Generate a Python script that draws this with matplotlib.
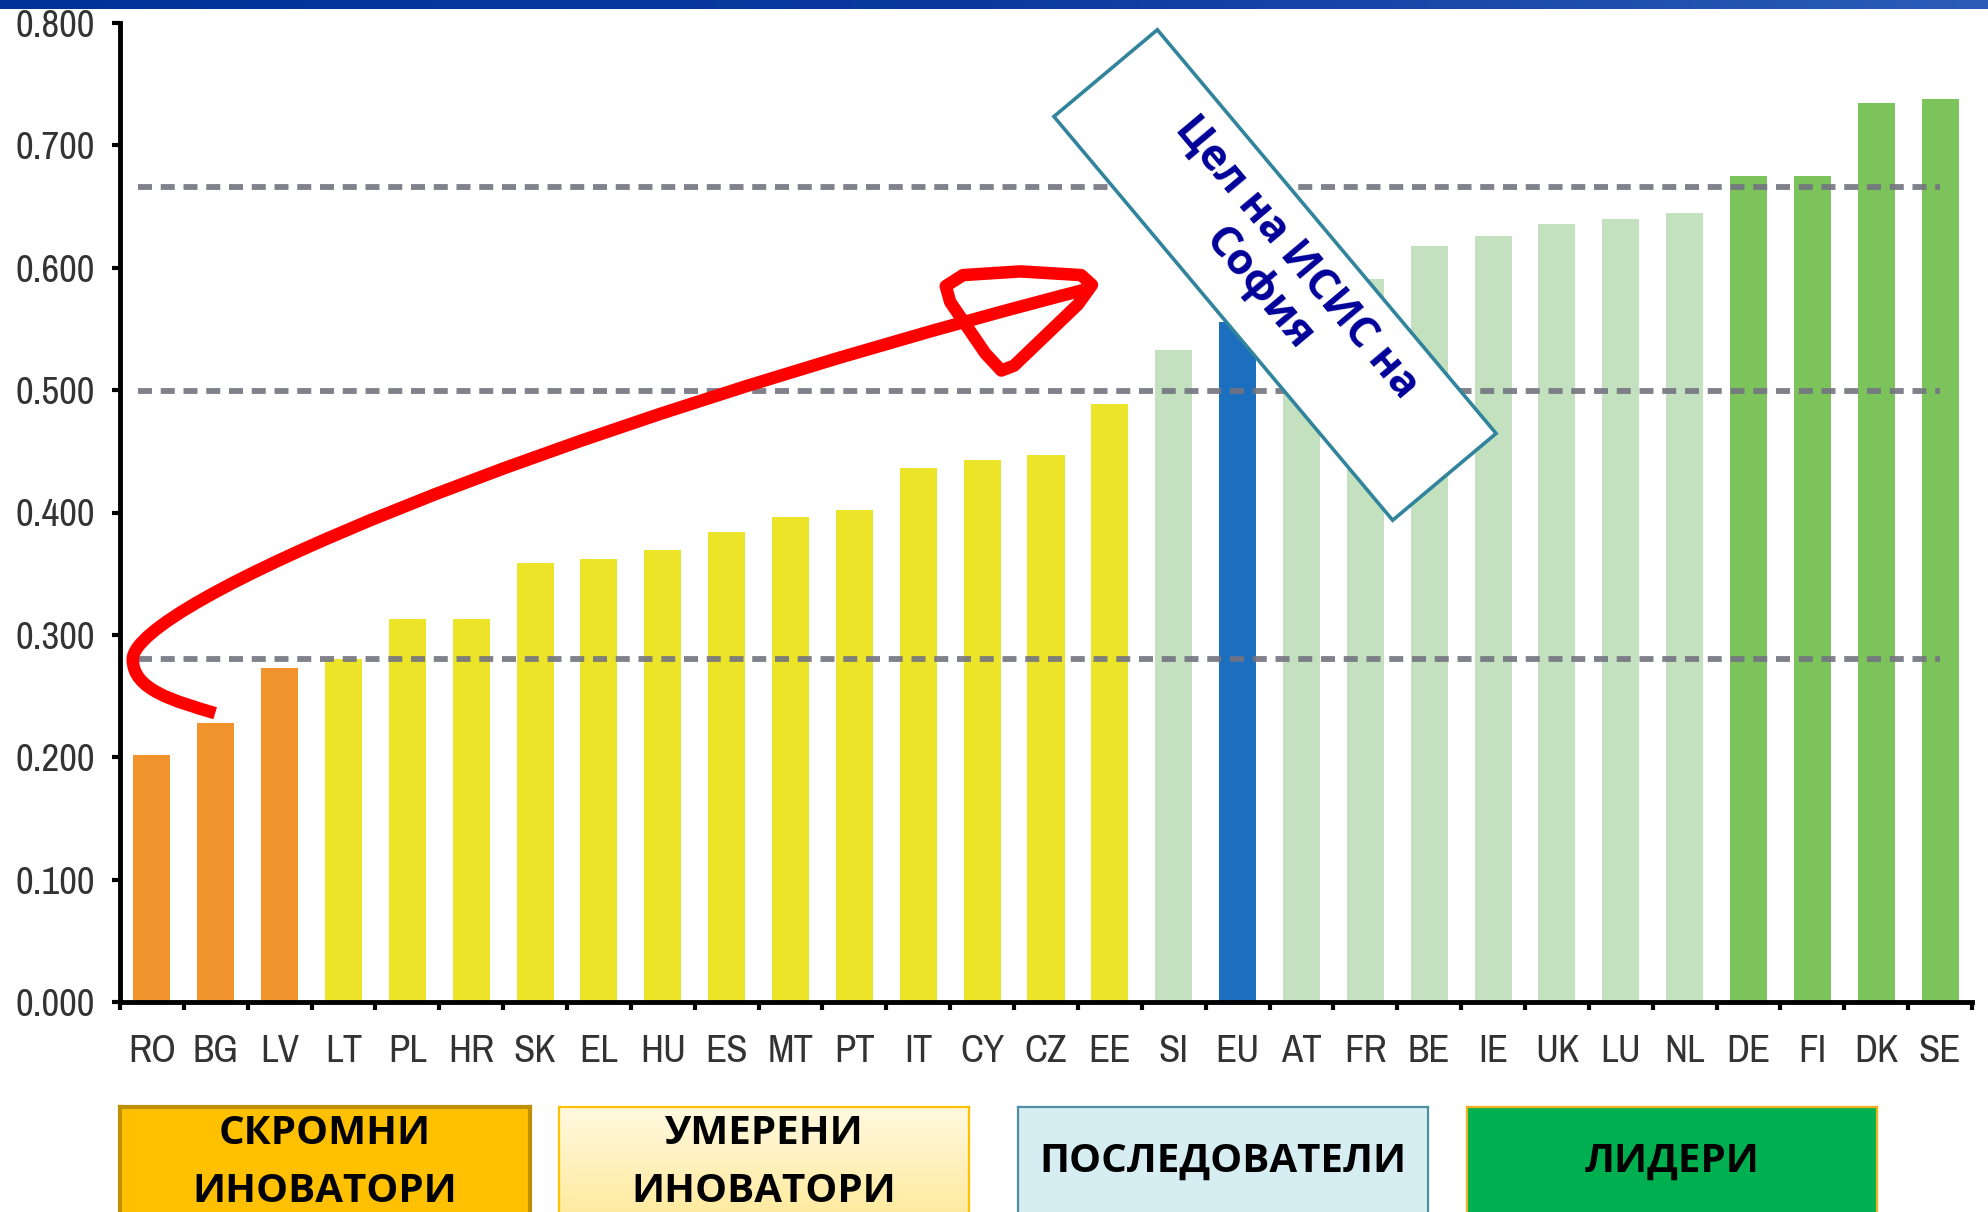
import numpy as np
import matplotlib
matplotlib.use('Agg')
import matplotlib.pyplot as plt
from matplotlib import font_manager
from matplotlib.font_manager import FontProperties
from matplotlib.patches import Rectangle, PathPatch, Polygon
from matplotlib.path import Path
from matplotlib.transforms import IdentityTransform
from matplotlib.colors import LinearSegmentedColormap

# ---------------- data ----------------
countries = ['RO', 'BG', 'LV', 'LT', 'PL', 'HR', 'SK', 'EL', 'HU', 'ES', 'MT', 'PT',
             'IT', 'CY', 'CZ', 'EE', 'SI', 'EU', 'AT', 'FR', 'BE', 'IE', 'UK', 'LU',
             'NL', 'DE', 'FI', 'DK', 'SE']
values = [0.202, 0.228, 0.273, 0.280, 0.313, 0.313, 0.359, 0.362, 0.369, 0.384, 0.396,
          0.402, 0.436, 0.443, 0.447, 0.489, 0.533, 0.556, 0.585, 0.591, 0.618, 0.626,
          0.636, 0.640, 0.645, 0.675, 0.675, 0.735, 0.738]
groups = (['modest'] * 3 + ['moderate'] * 13 + ['follower', 'eu'] +
          ['follower'] * 7 + ['leader'] * 4)
thresholds = [0.666, 0.4995, 0.280]
yticks = [0.0, 0.1, 0.2, 0.3, 0.4, 0.5, 0.6, 0.7, 0.8]
group_labels = ['СКРОМНИ\nИНОВАТОРИ', 'УМЕРЕНИ\nИНОВАТОРИ', 'ПОСЛЕДОВАТЕЛИ', 'ЛИДЕРИ']
target_label = 'Цел на ИСИС на\nСофия'

group_colors = {'modest': '#F0932C', 'moderate': '#ECE428', 'follower': '#C3E1BE',
                'eu': '#1C6FBF', 'leader': '#7CC35C'}

# ---------------- fonts ----------------
names = {f.name for f in font_manager.fontManager.ttflist}


def find_narrow():
    good = []
    for f in font_manager.fontManager.ttflist:
        if f.style != 'normal' or f.weight not in ('normal', 'regular', 400, 'book'):
            continue
        if 'CJK' in f.name or 'Mono' in f.name or 'Serif' in f.name:
            continue
        lname = (f.name + ' ' + f.fname).lower()
        if 'narrow' in lname:
            good.append((0, f))
        elif 'condensed' in lname and 'semi' not in lname and 'extra' not in lname:
            good.append((1, f))
    if not good:
        return None
    good.sort(key=lambda t: t[0])
    return good[0][1]


nf = find_narrow()
if nf is not None:
    ysize, xsize = 28, 28
    yprop = FontProperties(fname=nf.fname, size=ysize)
    xprop = FontProperties(fname=nf.fname, size=xsize)
else:
    fam = 'Liberation Sans' if 'Liberation Sans' in names else 'DejaVu Sans'
    ysize, xsize = 23.5, 25
    yprop = FontProperties(family=fam, size=ysize)
    xprop = FontProperties(family=fam, size=xsize)
box_font = 'Open Sans' if 'Open Sans' in names else 'DejaVu Sans'

W, H = 1988, 1212
fig = plt.figure(figsize=(W / 100, H / 100), dpi=100)
fig.patch.set_facecolor('white')

# ---------------- main axes ----------------
ax_left, ax_right, ax_top, ax_bottom = 120, 1972, 23, 1002
ax = fig.add_axes([ax_left / W, 1 - ax_bottom / H, (ax_right - ax_left) / W,
                   (ax_bottom - ax_top) / H])
n = len(countries)
x = np.arange(n)
colors = [group_colors[g] for g in groups]
ax.bar(x, values, width=0.58, color=colors, zorder=2)

for t in thresholds:
    ax.hlines(t, -0.22, n - 1, colors='#737380', linewidth=4.2,
              linestyles=(0, (2.4, 1.5)), alpha=0.9, zorder=3)

ax.set_xlim(-0.5, n - 0.5)
ax.set_ylim(0, 0.8)
for s in ['top', 'right']:
    ax.spines[s].set_visible(False)
for s in ['left', 'bottom']:
    ax.spines[s].set_linewidth(3.5)
    ax.spines[s].set_color('black')
    ax.spines[s].set_zorder(4)

ax.set_yticks(yticks)
ax.set_yticklabels(['%.3f' % v for v in yticks], color='#333333', fontproperties=yprop)
ax.tick_params(axis='y', direction='out', length=6, width=3, pad=12, color='black')

ax.set_xticks(np.arange(-0.5, n, 1.0))
ax.set_xticklabels([])
ax.tick_params(axis='x', which='major', direction='out', length=5.5, width=3,
               color='black')
ax.set_xticks(x, minor=True)
ax.set_xticklabels(countries, minor=True, color='#333333', fontproperties=xprop)
ax.tick_params(axis='x', which='minor', length=0, pad=23)

# ---------------- red hand-drawn arrow (data coordinates) ----------------
shaft = Path([(0.99, 0.236), (0.35, 0.246), (-0.30, 0.255), (-0.30, 0.280),
              (-0.30, 0.325), (6.0, 0.466), (14.6, 0.582)],
             [Path.MOVETO, Path.CURVE4, Path.CURVE4, Path.CURVE4,
              Path.CURVE4, Path.CURVE4, Path.CURVE4])
ax.add_patch(PathPatch(shaft, facecolor='none', edgecolor='#FF0000', linewidth=9,
                       capstyle='butt', zorder=6, clip_on=False))
head_pts = [(13.30, 0.516), (13.05, 0.530), (12.50, 0.572), (12.43, 0.585),
            (12.70, 0.594), (13.6, 0.597), (14.55, 0.594), (14.72, 0.586),
            (14.5, 0.570), (13.5, 0.520)]
head = Polygon(head_pts, closed=True, facecolor='none', edgecolor='#FF0000',
               linewidth=9, joinstyle='round', zorder=6, clip_on=False)
ax.add_patch(head)

# ---------------- rotated target box (figure pixels) ----------------
cx, cy = 1275, H - 275
bw, bh, ang = 527, 135, -50
rect = Rectangle((cx - bw / 2, cy - bh / 2), bw, bh, angle=ang, rotation_point='center',
                 transform=IdentityTransform(), facecolor='white', edgecolor='#31849B',
                 linewidth=2.6, zorder=8)
fig.add_artist(rect)
fig.text(cx + 3, cy + 2, target_label, transform=IdentityTransform(), rotation=ang,
         rotation_mode='anchor', ha='center', va='center', multialignment='center',
         fontsize=31, fontweight='bold', family=box_font, color='#000099',
         linespacing=1.2, zorder=9)

# ---------------- top blue band ----------------
band = fig.add_axes([0, 1 - 9 / H, 1, 9 / H], zorder=10)
grad = np.linspace(0, 1, 256)[None, :]
cmap = LinearSegmentedColormap.from_list('b', ['#00339A', '#0A3A9E', '#2A5CB8'])
band.imshow(grad, aspect='auto', cmap=cmap)
band.axis('off')

# ---------------- category boxes ----------------
box_x = [120, 559, 1018, 1467]
box_w = 410
box_top = 1107
box_fill = ['#FFC000', None, '#D6EDF2', '#00B050']
box_edge = ['#BF9000', '#FFC000', '#4E8FA3', '#F2B01E']
box_lw = [3.0, 1.6, 1.6, 1.6]
grad_cmap = LinearSegmentedColormap.from_list('y', ['#FFF9E0', '#FFE68A'])
for i, lab in enumerate(group_labels):
    bax = fig.add_axes([box_x[i] / W, -0.03, box_w / W, (H - box_top) / H + 0.03])
    bax.set_xlim(0, 1)
    bax.set_ylim(0, 1)
    if box_fill[i] is None:
        bax.imshow(np.linspace(0, 1, 256)[:, None], aspect='auto', cmap=grad_cmap,
                   extent=(0, 1, 0, 1), origin='upper')
    else:
        bax.set_facecolor(box_fill[i])
    bax.set_xticks([])
    bax.set_yticks([])
    for s in bax.spines.values():
        s.set_color(box_edge[i])
        s.set_linewidth(box_lw[i])
    lines = lab.split('\n')
    xc = box_x[i] + box_w / 2
    ys = [1133, 1192] if len(lines) == 2 else [1161]
    for ln, yy in zip(lines, ys):
        fig.text(xc, H - yy, ln, transform=IdentityTransform(), ha='center',
                 va='center', fontsize=29, fontweight='bold', family=box_font,
                 color='black', zorder=12)

fig.savefig('out.png', dpi=100)
